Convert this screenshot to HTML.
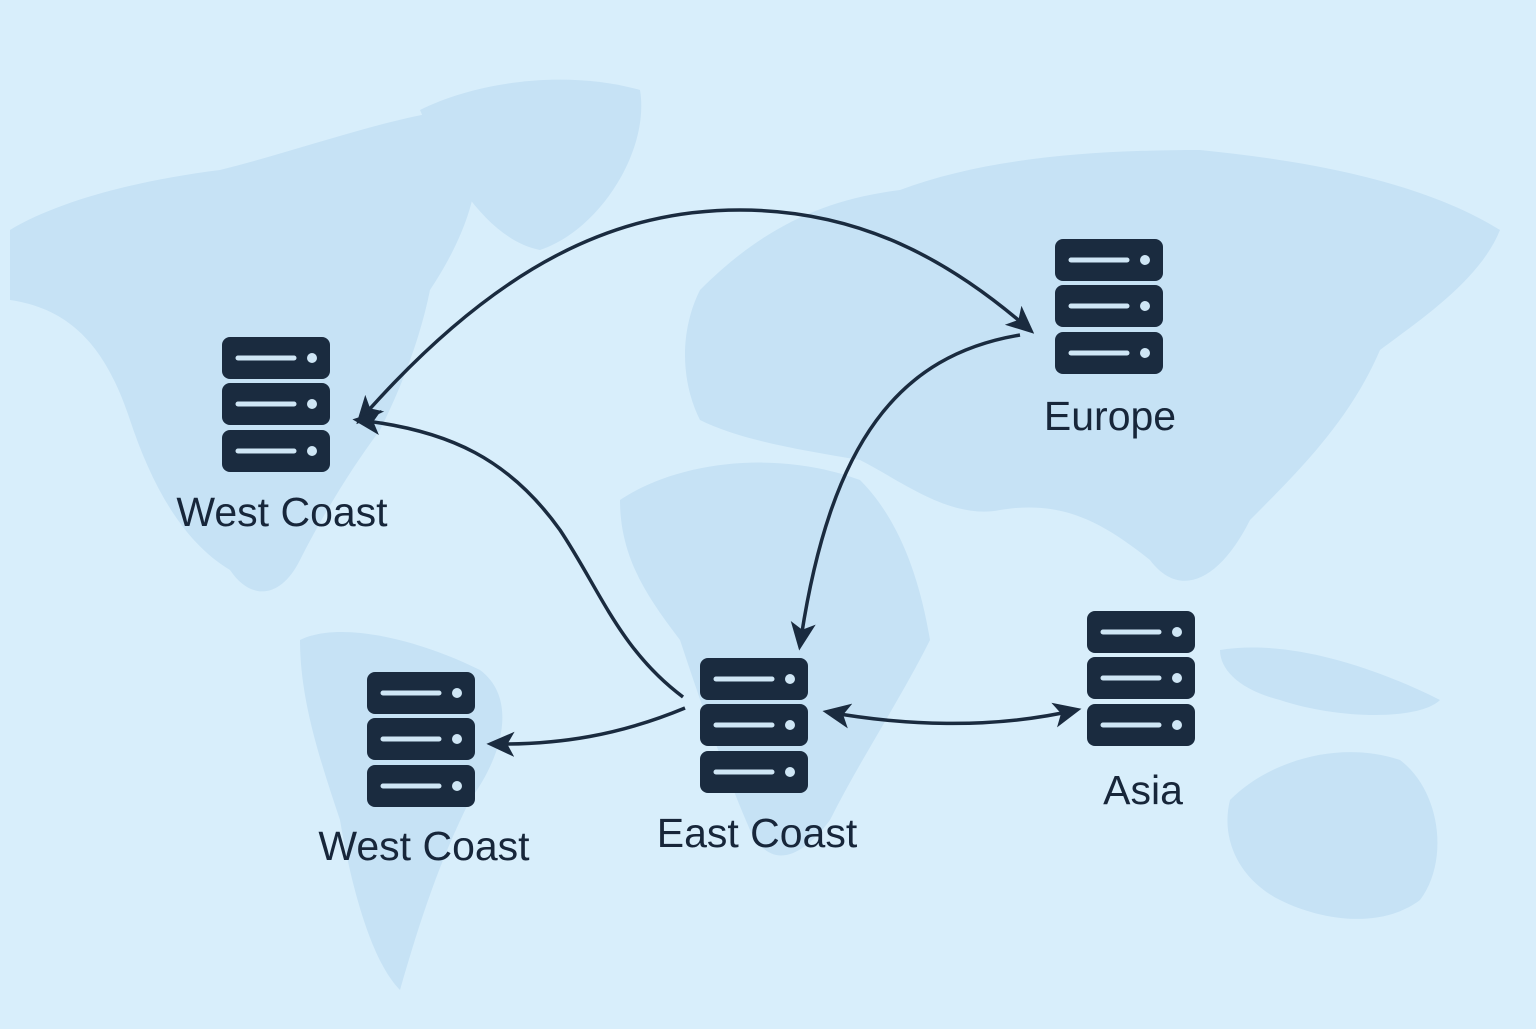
<!DOCTYPE html>
<html><head><meta charset="utf-8"><style>
html,body{margin:0;padding:0;}
body{width:1536px;height:1024px;overflow:hidden;background:#d8eefb;font-family:"Liberation Sans",sans-serif;}
</style></head><body>
<svg width="1536" height="1024" viewBox="0 0 1536 1024" xmlns="http://www.w3.org/2000/svg">
<defs>
<g id="srv">
  <rect x="0" y="0" width="108" height="42" rx="8" fill="#1a2b3f"/>
  <rect x="0" y="46" width="108" height="42" rx="8" fill="#1a2b3f"/>
  <rect x="0" y="93" width="108" height="42" rx="8" fill="#1a2b3f"/>
  <g stroke="#cfe6f5" stroke-width="5" stroke-linecap="round">
    <line x1="16" y1="21" x2="72" y2="21"/><line x1="16" y1="67" x2="72" y2="67"/><line x1="16" y1="114" x2="72" y2="114"/>
  </g>
  <g fill="#cfe6f5"><circle cx="90" cy="21" r="5"/><circle cx="90" cy="67" r="5"/><circle cx="90" cy="114" r="5"/></g>
</g>
<marker id="ah" viewBox="0 0 10 10" refX="8" refY="5" markerWidth="8" markerHeight="8" orient="auto-start-reverse" markerUnits="strokeWidth">
  <path d="M0,0.5 L10,5 L0,9.5 L2.5,5 z" fill="#1a2b3f"/>
</marker>
</defs>
<g fill="#c6e2f5">
  <path d="M10,230 C60,200 140,180 220,170 C300,150 380,120 450,110 C500,150 470,230 430,290 C420,340 400,390 380,430 C350,470 320,520 300,560 C280,600 250,600 230,570 C180,540 150,480 130,420 C110,360 80,310 10,300 Z"/>
  <path d="M420,110 C480,80 570,70 640,90 C650,150 600,230 540,250 C490,240 450,180 420,110 Z"/>
  <path d="M300,640 C340,620 420,640 480,670 C520,700 500,760 470,800 C440,860 420,920 400,990 C370,960 350,880 340,820 C320,760 300,700 300,640 Z"/>
  <path d="M700,290 C760,230 820,200 900,190 C980,160 1080,150 1200,150 C1300,160 1420,180 1500,230 C1480,280 1420,320 1380,350 C1350,420 1300,470 1250,520 C1220,580 1180,600 1150,560 C1100,520 1060,500 1000,510 C950,520 900,480 860,460 C800,450 740,440 700,420 C680,380 680,330 700,290 Z"/>
  <path d="M620,500 C680,460 780,450 860,480 C900,520 920,580 930,640 C900,700 860,760 830,820 C800,860 770,870 750,830 C720,760 700,700 680,640 C650,600 620,560 620,500 Z"/>
  <path d="M1230,800 C1270,760 1340,740 1400,760 C1440,790 1450,860 1420,900 C1380,930 1320,920 1280,900 C1240,880 1220,840 1230,800 Z"/>
  <path d="M1220,650 C1280,640 1360,660 1440,700 C1420,720 1340,720 1280,700 C1240,690 1220,670 1220,650 Z"/>
</g>
<use href="#srv" x="222" y="337"/>
<use href="#srv" x="1055" y="239"/>
<use href="#srv" x="367" y="672"/>
<use href="#srv" x="700" y="658"/>
<use href="#srv" x="1087" y="611"/>
<g fill="none" stroke="#1a2b3f" stroke-width="3.5">
  <path d="M360,420 C500,260 620,210 740,210 C860,210 950,260 1030,330" marker-start="url(#ah)" marker-end="url(#ah)"/>
  <path d="M1020,335 C900,355 830,440 800,645" marker-end="url(#ah)"/>
  <path d="M683,697 C620,650 600,590 560,530 C510,460 450,430 358,420" marker-end="url(#ah)"/>
  <path d="M685,708 C620,735 560,745 492,744" marker-end="url(#ah)"/>
  <path d="M828,712 C900,725 990,730 1076,710" marker-start="url(#ah)" marker-end="url(#ah)"/>
</g>
<g font-size="41" font-weight="500" fill="#17263a" text-anchor="middle" font-family="Liberation Sans, sans-serif">
  <text x="282" y="526">West Coast</text>
  <text x="1110" y="430">Europe</text>
  <text x="424" y="860">West Coast</text>
  <text x="757" y="847">East Coast</text>
  <text x="1143" y="804">Asia</text>
</g>
</svg>
</body></html>
